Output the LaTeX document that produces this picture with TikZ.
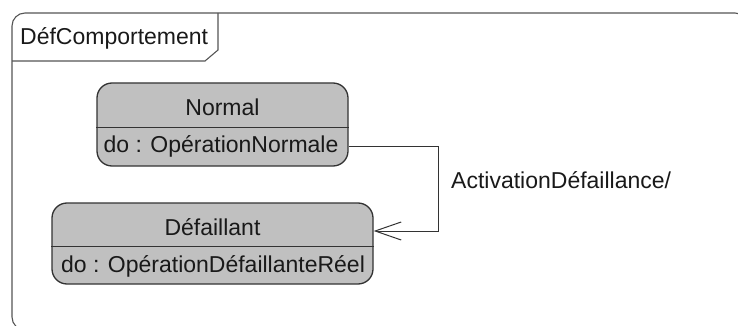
\documentclass[tikz,border=0pt]{standalone}
\usepackage{fontspec}
\setmainfont{Liberation Sans}
\usetikzlibrary{arrows.meta,calc}
\definecolor{stfill}{HTML}{C0C0C0}
\definecolor{stline}{HTML}{333333}
\definecolor{frline}{HTML}{555555}
\begin{document}
\begin{tikzpicture}[x=1pt,y=1pt,
  every node/.style={font=\fontsize{23}{27}\selectfont, text=black!90, inner sep=0pt},
  statebox/.style={draw=stline, line width=1.3pt, fill=stfill, rounded corners=15pt, inner sep=0pt},
  divider/.style={draw=stline, line width=1.1pt},
  trans/.style={draw=black!80, line width=1pt, -{Straight Barb[length=26pt,width=18pt,line width=1pt]}}]
\useasboundingbox (0,0) rectangle (738,-326);
\clip (0,0) rectangle (738,-326);
% frame
\draw[frline, line width=1.1pt, rounded corners=13pt] (12,-13) rectangle (748,-330);
\draw[frline, line width=1.1pt] (218,-13) -- (218,-50) -- (205,-61) -- (12,-61);
\node[anchor=base west] (frlabel) at (20,-45) {DéfComportement};
% states
\node[statebox, minimum width=251pt, minimum height=83pt] (normal) at (222.5,-124.5) {};
\draw[divider] ($(normal.north west)+(0,-45)$) -- ($(normal.north east)+(0,-45)$);
\node[anchor=base] (normalname) at (222.5,-115) {Normal};
\node[anchor=base] (normaldo) at (221,-152) {do : OpérationNormale};
\node[statebox, minimum width=321pt, minimum height=81pt] (def) at (212.5,-243.5) {};
\draw[divider] ($(def.north west)+(0,-44)$) -- ($(def.north east)+(0,-44)$);
\node[anchor=base] (defname) at (212.5,-235) {Défaillant};
\node[anchor=base] (defdo) at (213,-272) {do : OpérationDéfaillanteRéel};
% transition
\draw[trans] ([yshift=-21.5pt]normal.east) -- ++(90,0) |- ([yshift=12.5pt]def.east);
\node[anchor=west] (translabel) at (451,-180) {ActivationDéfaillance/};
\end{tikzpicture}
\end{document}
